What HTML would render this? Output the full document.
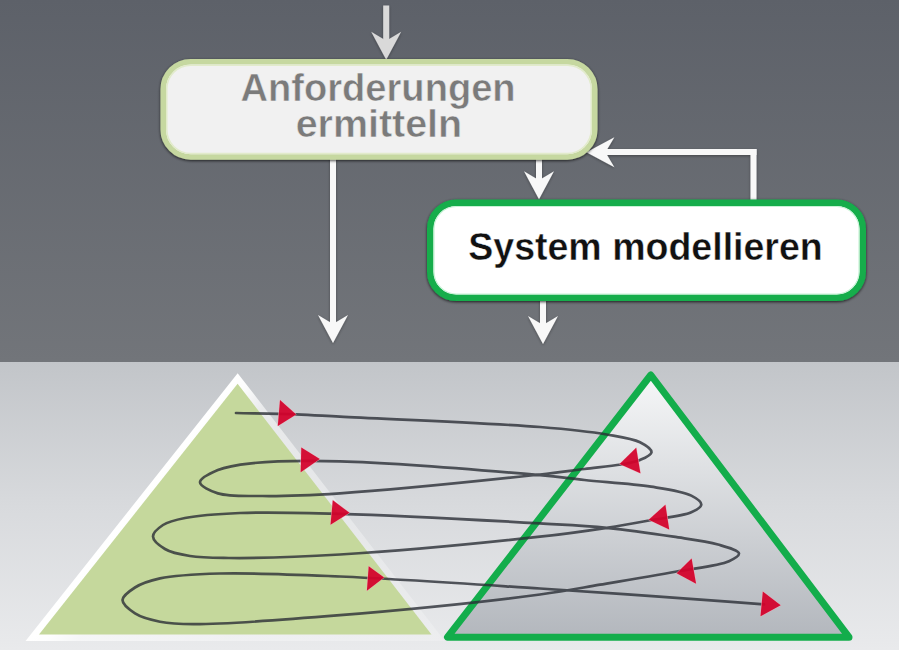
<!DOCTYPE html>
<html><head><meta charset="utf-8">
<style>
html,body{margin:0;padding:0;width:899px;height:650px;overflow:hidden;background:#6a6d73}
svg{display:block}
text{font-family:"Liberation Sans",sans-serif;font-weight:bold}
</style></head><body>
<svg width="899" height="650" viewBox="0 0 899 650">
<defs>
<linearGradient id="bgTop" x1="0" y1="0" x2="0" y2="1">
<stop offset="0" stop-color="#5d6169"/><stop offset="1" stop-color="#72757a"/>
</linearGradient>
<linearGradient id="bgBot" x1="0" y1="0" x2="0" y2="1">
<stop offset="0" stop-color="#c2c5c9"/><stop offset="0.5" stop-color="#d8dadd"/><stop offset="1" stop-color="#e9eaec"/>
</linearGradient>
<linearGradient id="triR" x1="0" y1="0" x2="0" y2="1">
<stop offset="0" stop-color="#f6f7f8"/><stop offset="1" stop-color="#b3b7bd"/>
</linearGradient>
<linearGradient id="triLStroke" gradientUnits="userSpaceOnUse" x1="31" y1="638" x2="284" y2="838">
<stop offset="0" stop-color="#ffffff"/><stop offset="0.04" stop-color="#ffffff" stop-opacity="0.95"/><stop offset="0.12" stop-color="#ffffff" stop-opacity="0.6"/><stop offset="0.5" stop-color="#ffffff" stop-opacity="0.35"/><stop offset="1" stop-color="#ffffff" stop-opacity="0.2"/></linearGradient>
<filter id="sh" x="-10%" y="-20%" width="120%" height="140%">
<feDropShadow dx="0" dy="1" stdDeviation="1.6" flood-color="#000" flood-opacity="0.75"/>
</filter>
<filter id="sh2" x="-50%" y="-50%" width="200%" height="200%">
<feDropShadow dx="0" dy="1" stdDeviation="1.5" flood-color="#000" flood-opacity="0.35"/>
</filter>
</defs>
<rect x="0" y="0" width="899" height="362" fill="url(#bgTop)"/>
<rect x="0" y="362" width="899" height="288" fill="url(#bgBot)"/>

<!-- arrows top -->
<g fill="#f8f8f8" filter="url(#sh2)">
<g fill="#d9d9d9"><rect x="383.2" y="5.5" width="6.0" height="36.2"/><path d="M386.2,59.7 L371.2,31.7 L386.2,40.7 L401.2,31.7 Z"/></g>
<rect x="330.0" y="158.0" width="6.0" height="167.0"/><path d="M333.0,343.0 L318.0,315.0 L333.0,324.0 L348.0,315.0 Z"/>
<rect x="536.0" y="158.0" width="6.0" height="23.3"/><path d="M539.0,199.3 L524.0,171.3 L539.0,180.3 L554.0,171.3 Z"/>
<rect x="540.0" y="299.0" width="6.0" height="27.0"/><path d="M543.0,344.0 L528.0,316.0 L543.0,325.0 L558.0,316.0 Z"/>
<rect x="600" y="149" width="156.5" height="6"/>
<rect x="750.5" y="149" width="6" height="52"/>
<path d="M586.4,152.3 L614.4,137.3 L605.4,152.3 L614.4,167.3 Z"/>
</g>

<!-- boxes -->
<rect x="163.25" y="61.75" width="431.5" height="95.2" rx="27.5" ry="27.5" fill="#f1f1f1" stroke="#c6d8a0" stroke-width="5.5" filter="url(#sh)"/>
<rect x="166.75" y="65.25" width="424.5" height="88.2" rx="24" ry="24" fill="none" stroke="#e2ebcb" stroke-width="1.5"/>
<text x="378.1" y="100.9" text-anchor="middle" font-size="38.3" textLength="275" lengthAdjust="spacingAndGlyphs" fill="#7b7b7b" stroke="#f1f1f1" stroke-width="0.5">Anforderungen</text>
<text x="378.9" y="136.5" text-anchor="middle" font-size="38.3" textLength="166.5" lengthAdjust="spacingAndGlyphs" fill="#7b7b7b" stroke="#f1f1f1" stroke-width="0.5">ermitteln</text>

<rect x="430.25" y="202.75" width="432.5" height="95" rx="26" ry="26" fill="#ffffff" stroke="#13ad4b" stroke-width="6.5" filter="url(#sh)"/>
<rect x="434" y="206.5" width="425" height="87.5" rx="22.5" ry="22.5" fill="none" stroke="#c8f2d6" stroke-width="1.2"/>
<text x="645.5" y="259.7" text-anchor="middle" font-size="38.5" textLength="354.5" lengthAdjust="spacingAndGlyphs" fill="#111111" stroke="#ffffff" stroke-width="0.4">System modellieren</text>

<!-- triangles -->
<path d="M237.6,383.7 L39,634.5 L431.5,634.5 Z" fill="none" stroke="url(#triLStroke)" stroke-width="13" stroke-linejoin="miter" stroke-miterlimit="10"/>
<path d="M237.6,383.7 L39,634.5 L431.5,634.5 Z" fill="#c5d89c"/>
<path d="M650.8,375 L447.5,637.2 L849,637.2 Z" fill="url(#triR)" stroke="#13ad4b" stroke-width="7" stroke-linejoin="round"/>

<!-- spiral -->
<path d="M236.0,413.0 C256.0,413.4 277.6,413.6 296.0,414.3 C311.8,414.9 320.0,415.6 340.0,416.7 C382.6,419.0 491.2,423.0 540.0,427.0 C568.2,429.3 588.4,431.3 606.7,434.5 C619.8,436.8 632.1,438.3 640.0,442.3 C645.3,445.0 651.7,449.3 651.5,452.3 C651.3,455.2 644.5,458.0 640.0,460.0 C634.6,462.3 628.4,463.2 621.0,464.5 C610.8,466.3 597.3,467.4 584.5,469.0 C570.4,470.7 560.2,472.3 540.0,474.5 C497.3,479.1 391.2,490.0 340.0,493.3 C308.2,495.3 284.7,496.3 262.4,496.0 C245.5,495.8 229.1,496.9 217.9,493.4 C210.2,491.0 200.1,486.2 200.0,482.3 C199.9,478.4 210.6,473.1 217.9,470.0 C227.0,466.2 237.3,464.8 251.2,463.3 C273.6,460.8 304.5,460.5 340.0,461.3 C393.3,462.6 497.3,471.4 540.0,475.2 C560.2,477.0 568.2,478.3 584.5,480.0 C604.4,482.1 631.7,483.6 651.0,486.7 C666.2,489.1 682.7,491.2 691.3,495.6 C696.2,498.1 701.4,501.7 701.3,504.5 C701.2,507.2 696.2,510.1 691.3,512.3 C682.4,516.4 663.1,517.9 649.0,520.5 C634.9,523.1 622.4,525.4 606.7,527.8 C587.0,530.8 568.2,533.6 540.0,536.7 C491.2,542.1 397.0,551.1 340.0,554.5 C297.6,557.1 256.5,558.3 229.0,558.0 C212.7,557.8 201.5,557.9 190.0,556.0 C180.6,554.5 171.4,552.9 165.0,549.0 C159.7,545.8 153.1,540.6 153.0,536.5 C152.9,532.6 158.5,528.0 163.0,525.0 C168.6,521.4 175.9,519.8 185.0,518.0 C199.1,515.2 218.9,513.9 240.0,513.0 C268.4,511.8 301.0,512.7 340.0,513.8 C395.2,515.3 491.2,520.6 540.0,523.4 C568.2,525.0 584.5,525.6 606.7,527.8 C629.0,530.0 653.5,533.6 673.5,536.7 C689.9,539.2 706.1,541.0 718.0,544.5 C726.5,547.0 738.6,550.1 739.0,553.4 C739.3,555.8 734.0,558.9 729.0,561.2 C718.7,565.9 695.9,568.0 676.8,571.5 C653.7,575.8 624.0,580.7 600.0,584.7 C578.8,588.3 565.9,591.0 540.0,594.5 C492.9,600.8 401.5,610.1 340.0,615.2 C287.4,619.5 225.0,624.4 193.4,624.2 C178.3,624.1 170.2,623.7 160.0,621.7 C150.9,619.9 141.5,617.6 135.0,613.4 C129.6,609.9 122.4,604.4 122.5,600.0 C122.6,595.7 129.7,590.9 135.0,587.5 C141.6,583.3 149.7,580.7 160.0,578.4 C175.5,575.0 196.5,574.2 220.0,573.5 C253.1,572.6 294.9,574.6 340.0,576.5 C398.2,579.0 482.4,584.8 540.0,588.5 C583.8,591.3 617.8,593.6 655.7,596.3 C692.4,598.9 727.9,601.6 764.0,604.3" fill="none" stroke="#2a2e36" stroke-width="2.7" stroke-linecap="round" stroke-opacity="0.8"/>
<!-- red arrows -->
<g fill="#d3022c" fill-opacity="0.94" stroke="#f0b0bc" stroke-opacity="0.8" stroke-width="1" stroke-linejoin="round" paint-order="stroke">
<path d="M296.2,414.4 L280.0,399.9 L277.8,425.9 Z"/><path d="M319.8,459.1 L301.3,447.5 L300.7,472.2 Z"/><path d="M349.5,512.8 L332.8,500.3 L330.5,524.7 Z"/><path d="M384.1,577.5 L368.7,566.3 L366.9,590.7 Z"/><path d="M780.7,605.3 L762.8,591.6 L760.5,616.3 Z"/><path d="M619.6,464.0 L636.2,447.8 L640.4,473.3 Z"/><path d="M648.7,519.7 L665.4,504.7 L669.2,529.6 Z"/><path d="M676.6,573.2 L691.6,558.4 L696.1,583.7 Z"/>
</g>
</svg>
</body></html>
